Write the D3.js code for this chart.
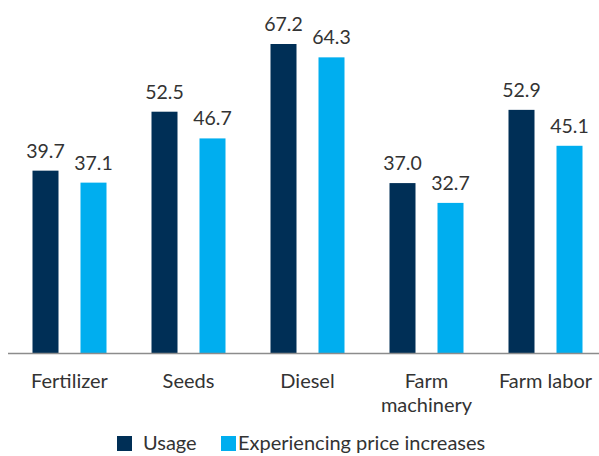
<!DOCTYPE html>
<html>
<head>
<meta charset="utf-8">
<script src="https://cdn.jsdelivr.net/npm/d3@7"></script>
<style>
  html, body { margin: 0; padding: 0; background: #fff; }
  svg { display: block; font-family: Lato, "Noto Sans", sans-serif; }
</style>
</head>
<body>
<svg id="chart" width="599" height="456"></svg>
<script>
// Input costs: share of respondents using each input vs. those experiencing price increases
const categories = ["Fertilizer", "Seeds", "Diesel", "Farm machinery", "Farm labor"];
const categoryLines = [["Fertilizer"], ["Seeds"], ["Diesel"], ["Farm", "machinery"], ["Farm labor"]];
const seriesNames = ["Usage", "Experiencing price increases"];
const usage = [39.7, 52.5, 67.2, 37.0, 52.9];
const priceIncreases = [37.1, 46.7, 64.3, 32.7, 45.1];
const colors = ["#002f56", "#00aeef"];

const svg = d3.select("#chart");
const baseY = 353.5;

const x0 = d3.scaleBand().domain(categories).range([10, 605]).paddingInner(0).paddingOuter(0);
const x1 = d3.scaleBand().domain(seriesNames)
  .range([x0.bandwidth() / 2 - 37, x0.bandwidth() / 2 + 37])
  .paddingInner(0.4583).paddingOuter(0);
const y = d3.scaleLinear().domain([0, 67.2]).range([baseY, 44]);

const rows = categories.map((c, i) => ({
  cat: c,
  values: [
    { key: seriesNames[0], v: usage[i] },
    { key: seriesNames[1], v: priceIncreases[i] }
  ]
}));

const groups = svg.selectAll("g.grp").data(rows).join("g")
  .attr("class", "grp")
  .attr("transform", d => `translate(${x0(d.cat)},0)`);

groups.selectAll("rect").data(d => d.values).join("rect")
  .attr("x", d => x1(d.key))
  .attr("width", x1.bandwidth())
  .attr("y", d => y(d.v))
  .attr("height", d => baseY - y(d.v))
  .attr("fill", (d, i) => colors[i]);

groups.selectAll("text.val").data(d => d.values).join("text")
  .attr("class", "val")
  .attr("x", d => x1(d.key) + x1.bandwidth() / 2)
  .attr("y", d => y(d.v) - 13)
  .attr("text-anchor", "middle")
  .attr("font-size", 19.5)
  .attr("fill", "#333")
  .text(d => d.v.toFixed(1));

// baseline axis
const xAxis = d3.axisBottom(x0).tickSize(0).tickFormat("");
const axisG = svg.append("g").attr("transform", `translate(0,${baseY})`).call(xAxis);
axisG.select(".domain").attr("stroke", "#8c8c8c").attr("stroke-width", 1.5)
  .attr("d", "M8,0H599");

// category labels
const catText = svg.selectAll("text.cat").data(categories).join("text")
  .attr("class", "cat")
  .attr("x", d => x0(d) + x0.bandwidth() / 2)
  .attr("y", 388)
  .attr("text-anchor", "middle")
  .attr("font-size", 20)
  .attr("fill", "#333");
catText.each(function(d, i) {
  d3.select(this).selectAll("tspan").data(categoryLines[i]).join("tspan")
    .attr("x", x0(d) + x0.bandwidth() / 2)
    .attr("dy", (l, j) => j === 0 ? 0 : 24)
    .text(l => l);
});

// legend
const legendItems = [
  { name: seriesNames[0], sx: 117, tx: 143 },
  { name: seriesNames[1], sx: 221, tx: 238 }
];
const lg = svg.append("g");
lg.selectAll("rect").data(legendItems).join("rect")
  .attr("x", d => d.sx).attr("y", 436).attr("width", 15).attr("height", 15)
  .attr("fill", (d, i) => colors[i]);
lg.selectAll("text").data(legendItems).join("text")
  .attr("x", d => d.tx).attr("y", 450)
  .attr("font-size", 20).attr("fill", "#333")
  .text(d => d.name);
</script>
</body>
</html>
